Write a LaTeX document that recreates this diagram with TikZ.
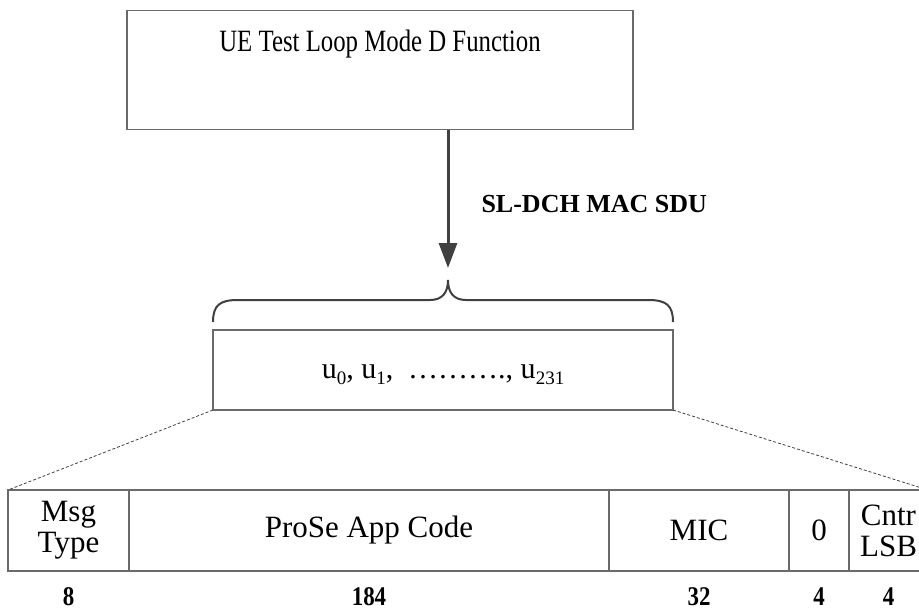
\documentclass[tikz,border=0pt]{standalone}
\usepackage{fontspec}
\setmainfont{Liberation Serif}
\newfontfamily\condfont[FakeStretch=0.8]{Liberation Serif}
\newfontfamily\numfont[FakeStretch=0.85]{Liberation Serif}
\usetikzlibrary{arrows.meta}
\newcommand{\sbs}[1]{\raisebox{-0.22em}{\fontsize{19}{19}\selectfont #1}}
\definecolor{boxgray}{HTML}{6A6A6A}
\definecolor{arrgray}{HTML}{404040}
\tikzset{
  frame/.style={draw=boxgray, line width=1.3pt, inner sep=0pt, outer sep=0pt},
  cell/.style={frame, minimum height=81pt, anchor=north west, align=center,
    font=\fontsize{31}{31}\selectfont},
  bits/.style={font=\numfont\bfseries\fontsize{27}{27}\selectfont, anchor=base},
  flow/.style={draw=arrgray, line width=3pt, -{Triangle[length=25pt,width=18pt]}},
  bracepath/.style={draw=arrgray, line width=2pt},
  zoomline/.style={draw=arrgray, line width=0.8pt, dash pattern=on 3pt off 2pt}
}
\begin{document}
\begin{tikzpicture}[x=1pt,y=-1pt]
\useasboundingbox (0,0) rectangle (919,610);
% top box
\node[frame, minimum width=506pt, minimum height=119pt] (top) at (380,70) {};
\node[font=\condfont\fontsize{31}{31}\selectfont, anchor=base] (toptxt) at (380,52) {UE Test Loop Mode D Function};
% arrow
\coordinate (tipA) at (448,268);
\draw[flow] (top.south -| tipA) -- (tipA);
\node[font=\bfseries\fontsize{26}{26}\selectfont, anchor=base west] (sdu) at (478,212) {SL-DCH MAC SDU};
% brace
\coordinate (bl) at (213,322);
\coordinate (bt) at (448,280);
\coordinate (br) at (673,322);
\draw[bracepath] (bl) .. controls (213,305) and (220,300) .. (238,300) -- (430,300)
   .. controls (442,300) and (448,293) .. (bt)
   .. controls (448,293) and (454,300) .. (466,300) -- (648,300)
   .. controls (666,300) and (673,305) .. (br);
% middle box
\node[frame, minimum width=460pt, minimum height=80pt] (mid) at (443,370) {};
\node[font=\fontsize{30}{30}\selectfont, anchor=base] (midtxt) at (443,378)
  {u\sbs{0}, u\sbs{1},\ \ ……….,\ u\sbs{231}};
% bottom row
\node[cell, minimum width=121pt] (c1) at (8,490) {Msg\\Type};
\node[cell, minimum width=480pt] (c2) at (129,490) {ProSe App Code};
\node[cell, minimum width=180pt] (c3) at (609,490) {MIC};
\node[cell, minimum width=60pt] (c4) at (789,490) {0};
\node[cell, minimum width=79pt] (c5) at (849,490) {Cntr\\LSB};
% dashed zoom lines
\draw[zoomline] (mid.south west) -- (c1.north west);
\draw[zoomline] (mid.south east) -- (c5.north east);
% bit counts
\node[bits] (n1) at (c1.center |- 0,605) {8};
\node[bits] (n2) at (c2.center |- 0,605) {184};
\node[bits] (n3) at (c3.center |- 0,605) {32};
\node[bits] (n4) at (c4.center |- 0,605) {4};
\node[bits] (n5) at (c5.center |- 0,605) {4};
\end{tikzpicture}
\end{document}
